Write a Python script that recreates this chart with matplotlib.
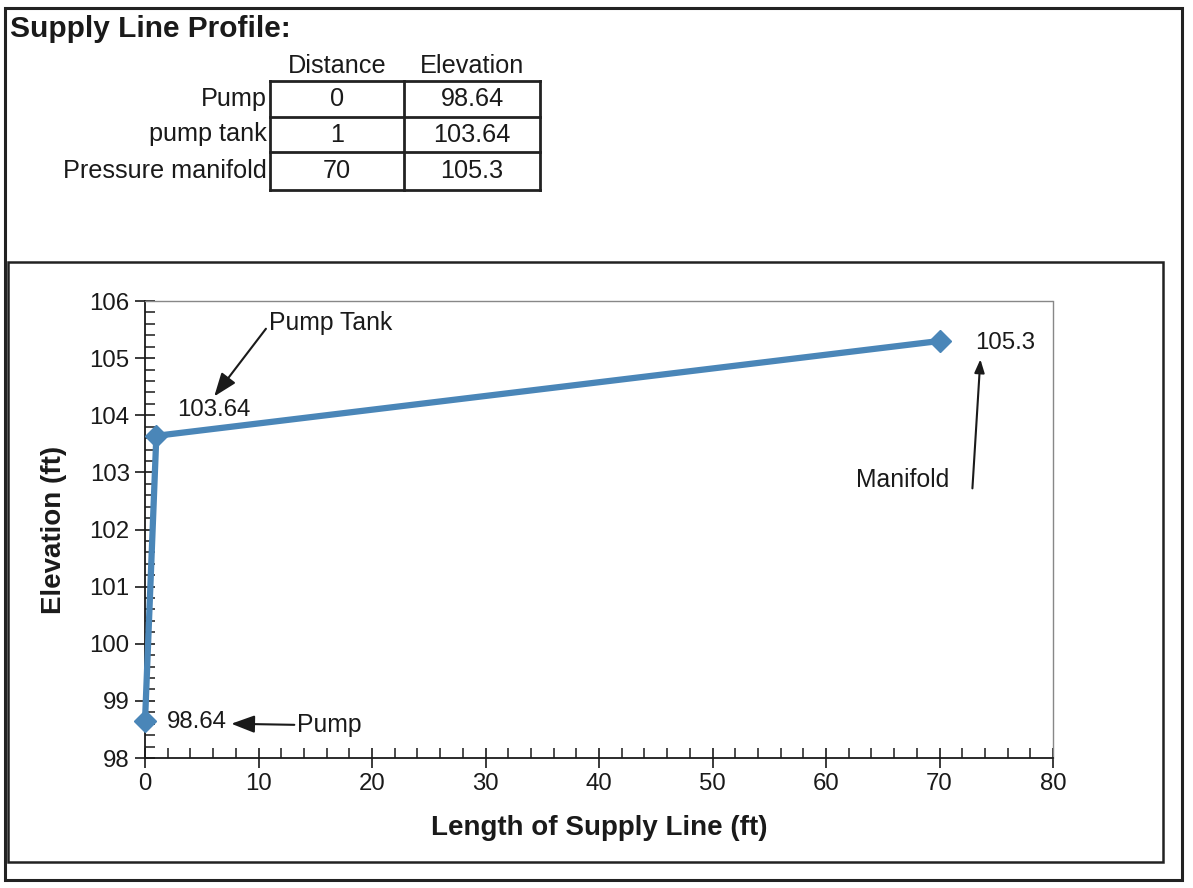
import matplotlib
matplotlib.use("Agg")
import matplotlib.pyplot as plt
from matplotlib.ticker import MultipleLocator
from matplotlib.patches import Rectangle
from matplotlib.lines import Line2D

plt.rcParams['font.family'] = ['Liberation Sans', 'DejaVu Sans']

# ---- data ----
row_labels = ["Pump", "pump tank", "Pressure manifold"]
col_labels = ["Distance", "Elevation"]
distance = [0, 1, 70]
elevation = [98.64, 103.64, 105.3]
value_labels = ["98.64", "103.64", "105.3"]
point_names = ["Pump", "Pump Tank", "Manifold"]

W, H = 1193, 888
fig = plt.figure(figsize=(W / 100, H / 100), dpi=100)
fig.patch.set_facecolor("white")

FS = 17.3
FT = 18.2
FA = 17.8

# overlay axes in pixel coordinates for borders / table
ov = fig.add_axes([0, 0, 1, 1], zorder=0)
ov.set_xlim(0, W)
ov.set_ylim(H, 0)
ov.axis("off")

ov.add_patch(Rectangle((5, 8), 1177, 872, fill=False, ec="#222222", lw=2.2))
ov.add_patch(Rectangle((8, 262), 1155, 600, fill=False, ec="#222222", lw=1.8))

ov.text(10, 29, "Supply Line Profile:", fontsize=21.5, fontweight="bold",
        ha="left", va="center", color="#1a1a1a")

# table
col_x = [270, 404, 540]
row_y = [81, 117, 152, 190]
for j, c in enumerate(col_labels):
    ov.text((col_x[j] + col_x[j + 1]) / 2, 66, c, fontsize=FT,
            ha="center", va="center", color="#1a1a1a")
table_vals = [[str(d), v] for d, v in zip(distance, value_labels)]
for i, r in enumerate(row_labels):
    yc = (row_y[i] + row_y[i + 1]) / 2
    ov.text(col_x[0] - 3, yc, r, fontsize=FT, ha="right", va="center", color="#1a1a1a")
    for j in range(2):
        ov.text((col_x[j] + col_x[j + 1]) / 2, yc, table_vals[i][j], fontsize=FT,
                ha="center", va="center", color="#1a1a1a")
for y in row_y:
    ov.add_line(Line2D([col_x[0], col_x[-1]], [y, y], color="#222222", lw=2))
for x in col_x:
    ov.add_line(Line2D([x, x], [row_y[0], row_y[-1]], color="#222222", lw=2))

# ---- chart ----
left, right, top, bottom = 145, 1053, 301, 758
ax = fig.add_axes([left / W, 1 - bottom / H, (right - left) / W, (bottom - top) / H], zorder=2)
ax.patch.set_alpha(0)
ax.plot(distance, elevation, color="#4a86b8", lw=4.5, marker="D", ms=11,
        mec="#4a86b8", mfc="#4a86b8", solid_joinstyle="miter", clip_on=False, zorder=3)
ax.set_xlim(0, 80)
ax.set_ylim(98, 106)
ax.xaxis.set_major_locator(MultipleLocator(10))
ax.xaxis.set_minor_locator(MultipleLocator(2))
ax.yaxis.set_major_locator(MultipleLocator(1))
ax.yaxis.set_minor_locator(MultipleLocator(0.2))
ax.tick_params(axis="both", which="major", direction="inout", length=14, width=1.2,
               labelsize=FS, colors="#1a1a1a", pad=4)
ax.tick_params(axis="both", which="minor", direction="in", length=7, width=1.1, colors="#1a1a1a")
for s in ["left", "bottom"]:
    ax.spines[s].set_color("#1a1a1a")
    ax.spines[s].set_linewidth(1.3)
for s in ["top", "right"]:
    ax.spines[s].set_color("#888888")
    ax.spines[s].set_linewidth(1.0)
    ax.spines[s].set_linestyle((0, (1, 1)))

ax.set_xlabel("Length of Supply Line (ft)", fontsize=20, fontweight="bold",
              color="#1a1a1a", labelpad=14)
ax.set_ylabel("Elevation (ft)", fontsize=20, fontweight="bold",
              color="#1a1a1a", labelpad=16)

# value labels
ax.text(distance[0] + 1.9, elevation[0] - 0.01, value_labels[0], fontsize=FS,
        ha="left", va="center", color="#1a1a1a")
ax.text(distance[1] + 5.1, elevation[1] + 0.45, value_labels[1], fontsize=FS,
        ha="center", va="center", color="#1a1a1a")
ax.text(distance[2] + 3.1, elevation[2] - 0.04, value_labels[2], fontsize=FS,
        ha="left", va="center", color="#1a1a1a")

arrow = dict(arrowstyle="-|>,head_length=0.8,head_width=0.3", color="#1a1a1a", lw=1.5,
             shrinkA=0, shrinkB=0)
# Pump
ax.annotate(point_names[0], xy=(7.6, 98.6), xytext=(13.4, 98.57), fontsize=FA,
            ha="left", va="center", color="#1a1a1a", arrowprops=arrow)
# Pump Tank
ax.annotate(point_names[1], xy=(6.1, 104.33), xytext=(10.9, 105.62), fontsize=FA,
            ha="left", va="center", color="#1a1a1a",
            arrowprops=dict(arrow, relpos=(0, 0.4)))
# Manifold
ax.text(70.9, 102.87, point_names[2], fontsize=FA, ha="right", va="center", color="#1a1a1a")
ax.annotate("", xy=(73.6, 104.98), xytext=(72.9, 102.72), arrowprops=arrow)

fig.savefig("out.png", dpi=100, facecolor="white")
